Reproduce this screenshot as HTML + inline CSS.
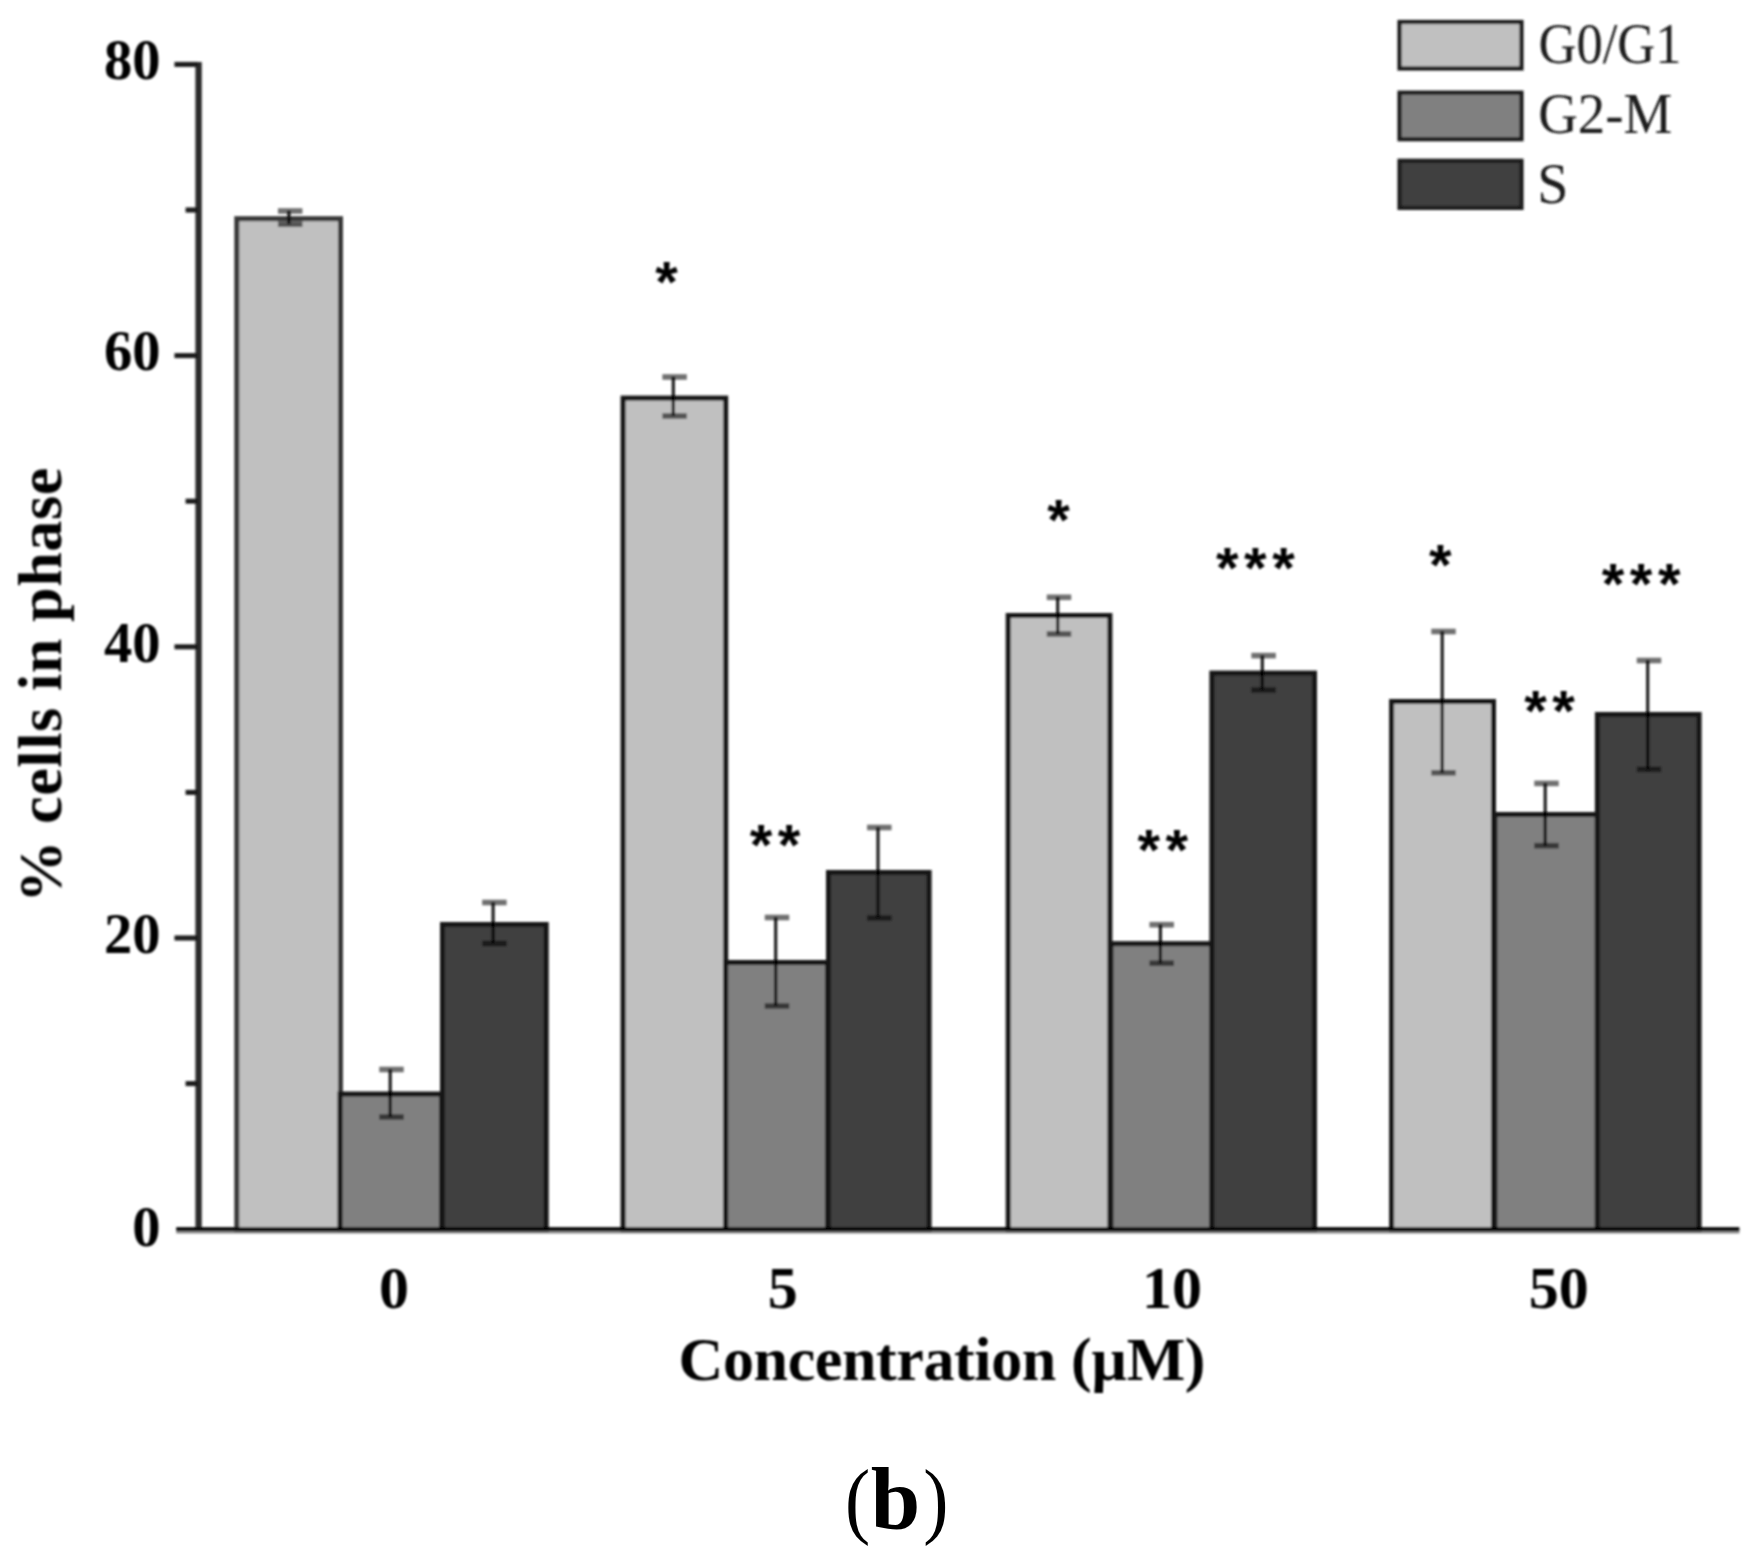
<!DOCTYPE html>
<html lang="en"><head><meta charset="utf-8"><title>Cell cycle phase distribution (b)</title>
<style>
html,body{margin:0;padding:0;background:#fff;}
body{width:1757px;height:1557px;overflow:hidden;position:relative;}
svg{position:absolute;left:0;top:0;display:block;}
text{font-family:"Liberation Serif","DejaVu Serif",serif;fill:#000;}
.b{font-weight:bold;}
.tk{font-size:56.5px;font-weight:bold;}
.tx{font-size:60px;font-weight:bold;}
.cap{font-size:85.3px;}
.st{font-family:"Liberation Sans","DejaVu Sans",sans-serif;font-size:58px;font-weight:bold;}
.ti{font-size:62px;font-weight:bold;}
.lg{font-size:56px;fill:#1a1a1a;}
</style></head><body>
<svg width="1757" height="1557" viewBox="0 0 1757 1557">
<defs><filter id="soft" x="-2%" y="-2%" width="104%" height="104%"><feGaussianBlur stdDeviation="0.9"/></filter></defs>
<rect x="0" y="0" width="1757" height="1557" fill="#ffffff"/>
<g filter="url(#soft)">
<g stroke="#141414" stroke-width="5" stroke-linejoin="miter">
<rect x="236.80" y="218.70" width="103.70" height="1011.30" fill="#c0c0c0" stroke="#383838"/>
<rect x="340.00" y="1094.00" width="101.50" height="136.00" fill="#808080"/>
<rect x="442.50" y="924.50" width="103.70" height="305.50" fill="#404040"/>
<rect x="623.10" y="398.10" width="102.60" height="831.90" fill="#c0c0c0"/>
<rect x="725.70" y="962.50" width="101.80" height="267.50" fill="#808080"/>
<rect x="828.50" y="872.50" width="100.60" height="357.50" fill="#404040"/>
<rect x="1008.20" y="615.50" width="101.70" height="614.50" fill="#c0c0c0"/>
<rect x="1110.90" y="943.70" width="100.90" height="286.30" fill="#808080"/>
<rect x="1211.90" y="673.10" width="102.60" height="556.90" fill="#404040"/>
<rect x="1391.60" y="701.50" width="101.90" height="528.50" fill="#c0c0c0"/>
<rect x="1494.90" y="814.50" width="102.40" height="415.50" fill="#808080"/>
<rect x="1597.40" y="714.50" width="101.70" height="515.50" fill="#404040"/>
</g>
<g fill="#000">
<rect x="287.30" y="211.00" width="3.2" height="13.20" fill-opacity="0.88"/>
<rect x="277.95" y="208.20" width="24.5" height="5.6" fill-opacity="0.56"/>
<rect x="277.95" y="221.40" width="24.5" height="5.6" fill-opacity="0.56"/>
<rect x="388.60" y="1069.50" width="3.2" height="47.50" fill-opacity="0.88"/>
<rect x="379.25" y="1066.70" width="24.5" height="5.6" fill-opacity="0.56"/>
<rect x="379.25" y="1114.20" width="24.5" height="5.6" fill-opacity="0.56"/>
<rect x="491.50" y="902.50" width="3.2" height="41.00" fill-opacity="0.88"/>
<rect x="482.15" y="899.70" width="24.5" height="5.6" fill-opacity="0.56"/>
<rect x="482.15" y="940.70" width="24.5" height="5.6" fill-opacity="0.56"/>
<rect x="671.70" y="377.00" width="3.2" height="39.00" fill-opacity="0.88"/>
<rect x="662.35" y="374.20" width="24.5" height="5.6" fill-opacity="0.56"/>
<rect x="662.35" y="413.20" width="24.5" height="5.6" fill-opacity="0.56"/>
<rect x="774.10" y="917.50" width="3.2" height="88.50" fill-opacity="0.88"/>
<rect x="764.75" y="914.70" width="24.5" height="5.6" fill-opacity="0.56"/>
<rect x="764.75" y="1003.20" width="24.5" height="5.6" fill-opacity="0.56"/>
<rect x="876.40" y="827.50" width="3.2" height="90.50" fill-opacity="0.88"/>
<rect x="867.05" y="824.70" width="24.5" height="5.6" fill-opacity="0.56"/>
<rect x="867.05" y="915.20" width="24.5" height="5.6" fill-opacity="0.56"/>
<rect x="1056.10" y="597.30" width="3.2" height="36.70" fill-opacity="0.88"/>
<rect x="1046.75" y="594.50" width="24.5" height="5.6" fill-opacity="0.56"/>
<rect x="1046.75" y="631.20" width="24.5" height="5.6" fill-opacity="0.56"/>
<rect x="1158.80" y="924.70" width="3.2" height="38.50" fill-opacity="0.88"/>
<rect x="1149.45" y="921.90" width="24.5" height="5.6" fill-opacity="0.56"/>
<rect x="1149.45" y="960.40" width="24.5" height="5.6" fill-opacity="0.56"/>
<rect x="1260.70" y="655.60" width="3.2" height="34.40" fill-opacity="0.88"/>
<rect x="1251.35" y="652.80" width="24.5" height="5.6" fill-opacity="0.56"/>
<rect x="1251.35" y="687.20" width="24.5" height="5.6" fill-opacity="0.56"/>
<rect x="1440.60" y="631.50" width="3.2" height="141.30" fill-opacity="0.88"/>
<rect x="1431.25" y="628.70" width="24.5" height="5.6" fill-opacity="0.56"/>
<rect x="1431.25" y="770.00" width="24.5" height="5.6" fill-opacity="0.56"/>
<rect x="1543.60" y="783.40" width="3.2" height="62.30" fill-opacity="0.88"/>
<rect x="1534.25" y="780.60" width="24.5" height="5.6" fill-opacity="0.56"/>
<rect x="1534.25" y="842.90" width="24.5" height="5.6" fill-opacity="0.56"/>
<rect x="1646.10" y="660.50" width="3.2" height="108.90" fill-opacity="0.88"/>
<rect x="1636.75" y="657.70" width="24.5" height="5.6" fill-opacity="0.56"/>
<rect x="1636.75" y="766.60" width="24.5" height="5.6" fill-opacity="0.56"/>
</g>
<g>
<rect x="195.4" y="62" width="6.4" height="1169" fill="#2a2a2a"/>
<rect x="185.6" y="1081.10" width="12" height="5" fill="#1a1a1a"/>
<rect x="174.5" y="935.50" width="23" height="5" fill="#1a1a1a"/>
<rect x="185.6" y="789.90" width="12" height="5" fill="#1a1a1a"/>
<rect x="174.5" y="644.30" width="23" height="5" fill="#1a1a1a"/>
<rect x="185.6" y="498.70" width="12" height="5" fill="#1a1a1a"/>
<rect x="174.5" y="353.10" width="23" height="5" fill="#1a1a1a"/>
<rect x="185.6" y="207.50" width="12" height="5" fill="#1a1a1a"/>
<rect x="174.5" y="61.90" width="23" height="5" fill="#1a1a1a"/>
<rect x="176.2" y="1227.2" width="1563.2" height="4.2" fill="#000"/>
<rect x="176.2" y="1231.4" width="1563.2" height="2" fill="#808080"/>
</g>
<g stroke="#1c1c1c" stroke-width="4.2">
<rect x="1399.50" y="22.00" width="122.00" height="46.50" fill="#c0c0c0"/>
<rect x="1399.50" y="92.70" width="122.00" height="46.50" fill="#808080"/>
<rect x="1399.50" y="160.80" width="122.00" height="47.10" fill="#404040"/>
</g>
<text class="lg" x="1538.5" y="62.6" textLength="143" lengthAdjust="spacingAndGlyphs">G0/G1</text>
<text class="lg" x="1538.2" y="132.7" textLength="134" lengthAdjust="spacingAndGlyphs">G2-M</text>
<text class="lg" x="1537.3" y="203.2">S</text>
<text class="tk" x="160.5" y="79.0" text-anchor="end">80</text>
<text class="tk" x="160.5" y="370.2" text-anchor="end">60</text>
<text class="tk" x="160.5" y="662.4" text-anchor="end">40</text>
<text class="tk" x="160.5" y="953.0" text-anchor="end">20</text>
<text class="tk" x="160.5" y="1246.2" text-anchor="end">0</text>
<text class="tx" x="394.0" y="1308.2" text-anchor="middle">0</text>
<text class="tx" x="782.8" y="1308.2" text-anchor="middle">5</text>
<text class="tx" x="1172.0" y="1308.2" text-anchor="middle">10</text>
<text class="tx" x="1558.8" y="1308.2" text-anchor="middle">50</text>
<text class="st" x="655.2" y="302.4">*</text>
<text class="st" x="749.7 777.8" y="865.2">**</text>
<text class="st" x="1047.2" y="540.2">*</text>
<text class="st" x="1137.5 1165.5" y="870.2">**</text>
<text class="st" x="1216.0 1244.1 1272.2" y="588.4">***</text>
<text class="st" x="1428.9" y="584.7">*</text>
<text class="st" x="1524.2 1552.2" y="731.2">**</text>
<text class="st" x="1601.7 1629.8 1657.9" y="604.2">***</text>
<text class="ti" x="942" y="1380.3" text-anchor="middle" textLength="527" lengthAdjust="spacing">Concentration (µM)</text>
<text class="ti" transform="translate(61,685.2) rotate(-90)" text-anchor="middle" textLength="435" lengthAdjust="spacing">% cells in phase</text>
</g>
<text class="cap" x="844.9" y="1528.4" textLength="25.2" lengthAdjust="spacingAndGlyphs">(</text>
<text class="cap b" x="870.8" y="1529.3" style="font-size:89px">b</text>
<text class="cap" x="923.3" y="1528.4" textLength="25.2" lengthAdjust="spacingAndGlyphs">)</text>
</svg>
</body></html>
